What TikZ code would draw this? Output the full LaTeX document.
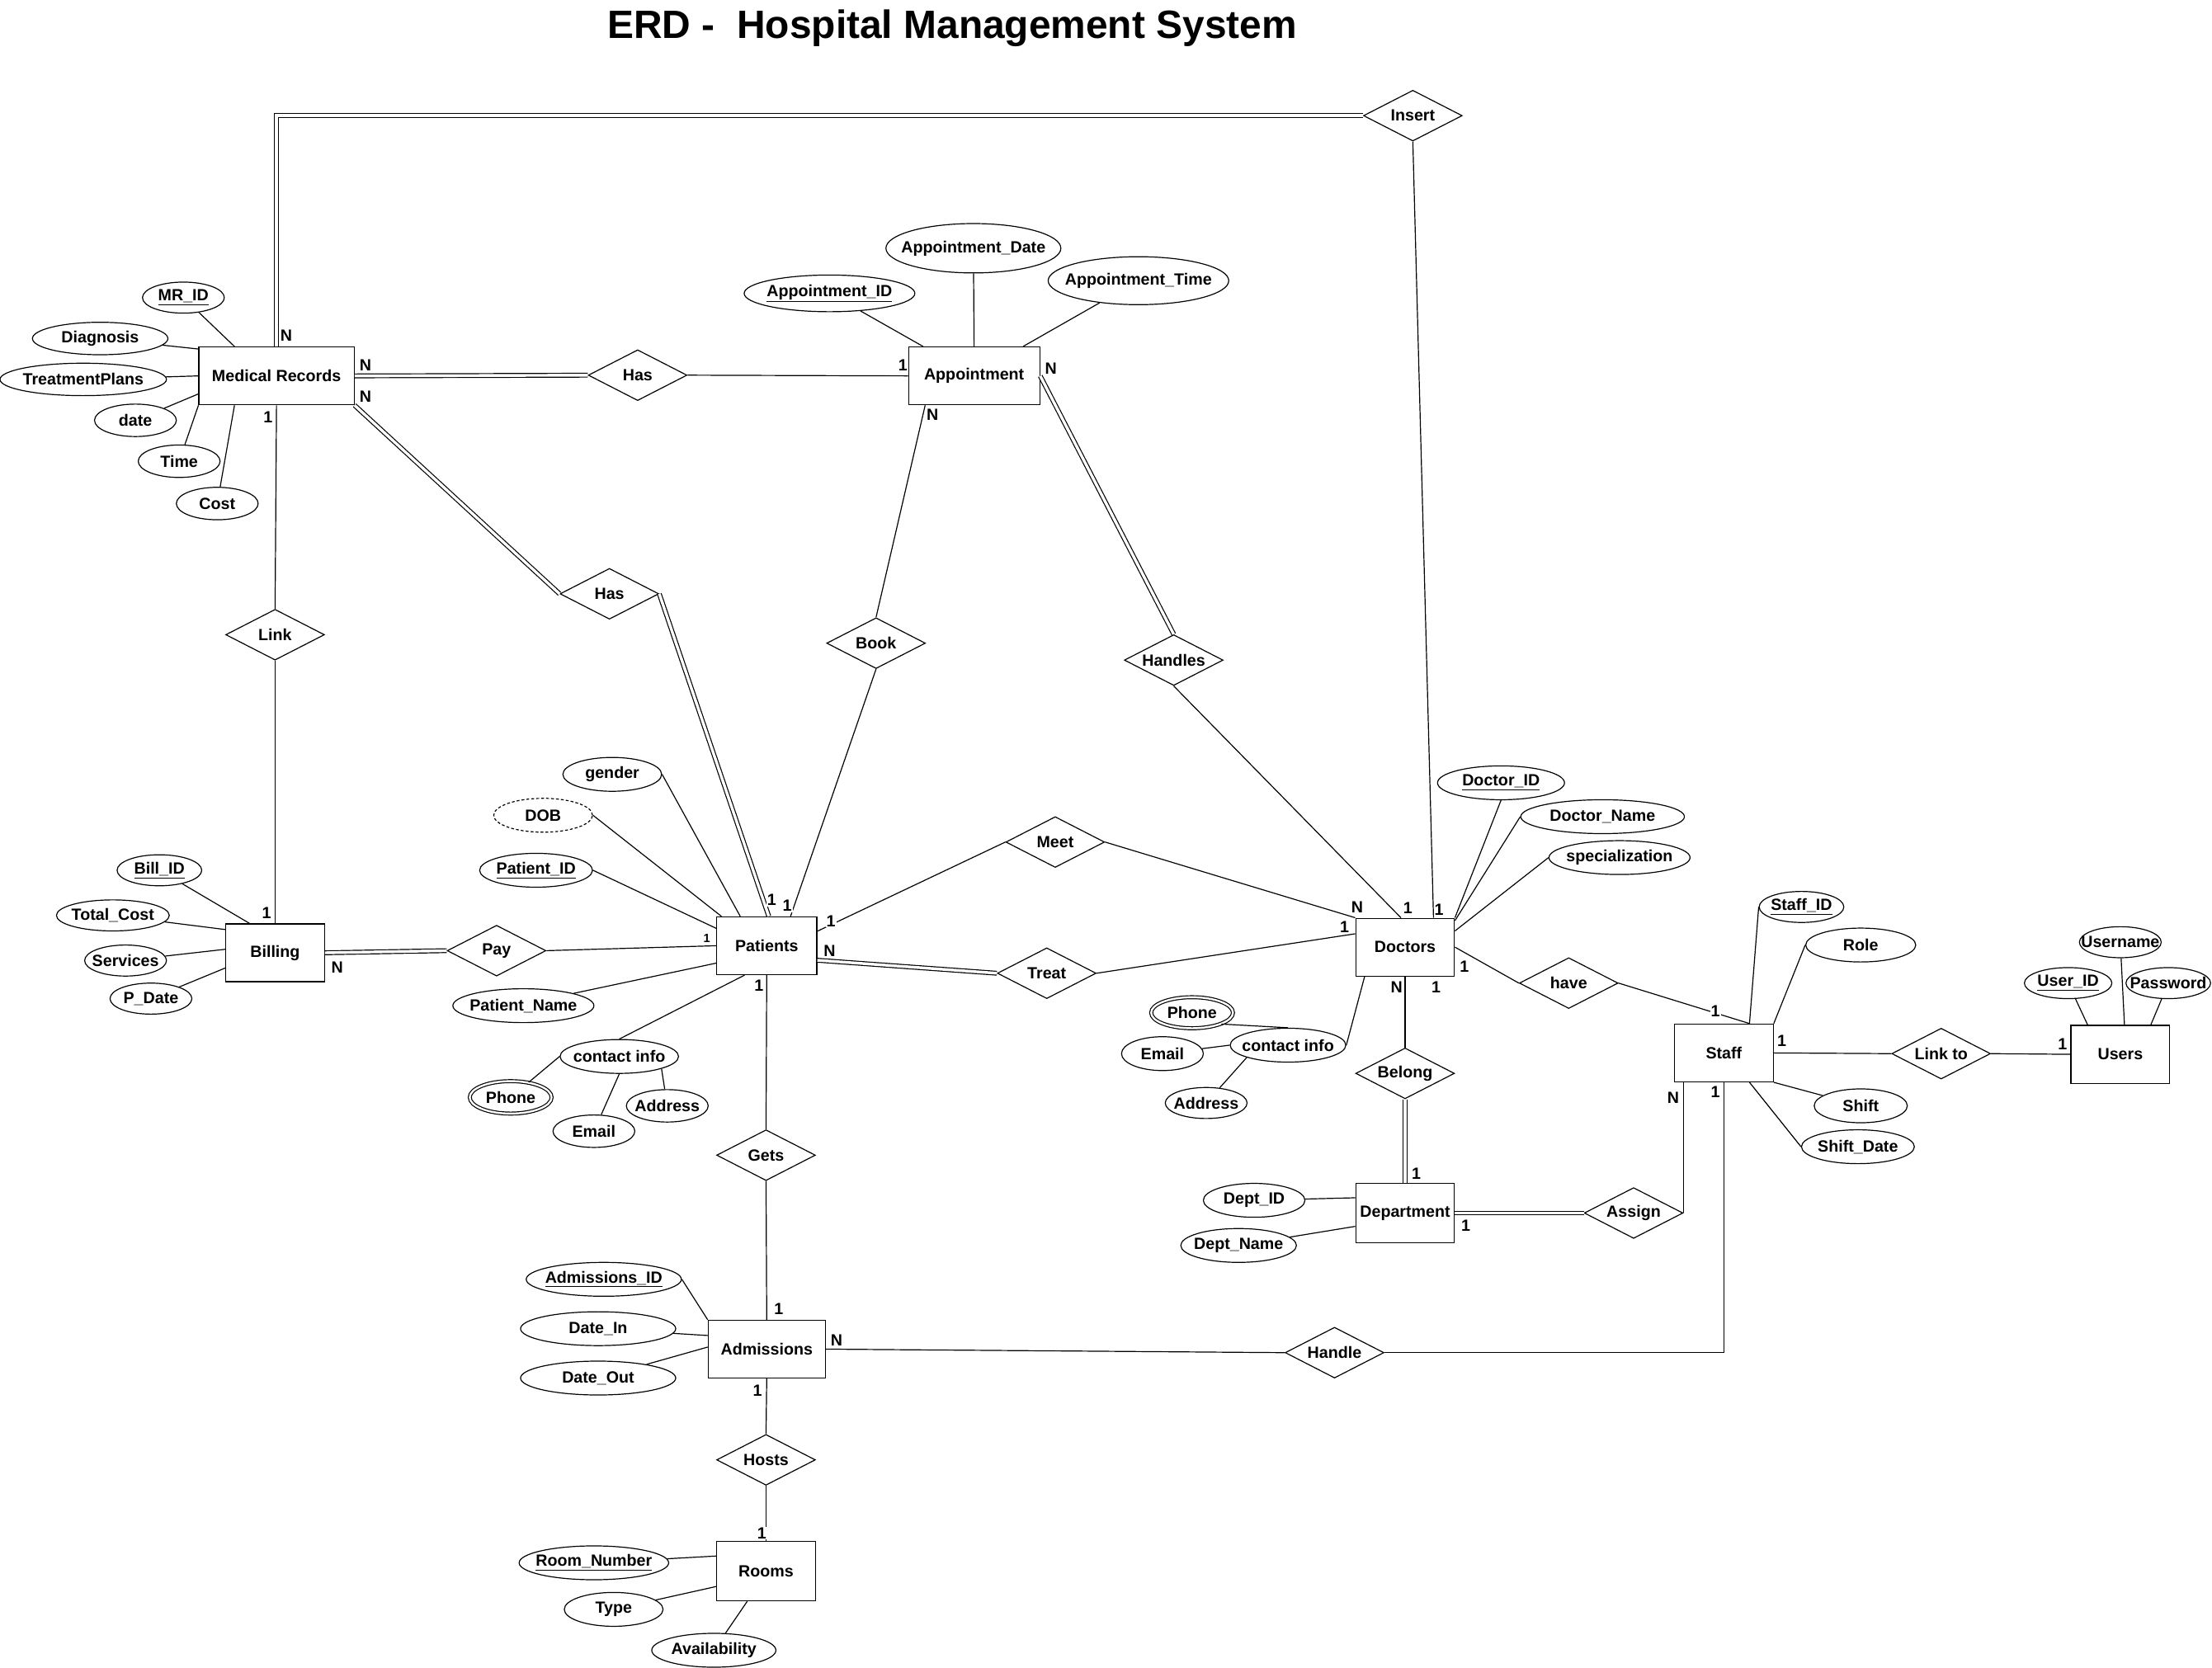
\documentclass[tikz,border=0pt]{standalone}
\usepackage{fontspec}
\setmainfont{Liberation Sans}
\usetikzlibrary{shapes.geometric}

\tikzset{
  every node/.style={font=\fontsize{11.5}{13}\selectfont\bfseries},
  entity/.style={draw, rectangle, minimum width=70pt, minimum height=41pt, inner sep=1pt},
  rel/.style={draw, diamond, minimum width=70pt, minimum height=36pt, inner xsep=-50pt, inner ysep=-20pt},
  attr/.style={draw, ellipse, minimum height=23pt, inner xsep=-60pt, inner ysep=-20pt},
  multi/.style={attr, double, double distance=1.4pt},
  derived/.style={attr, dash pattern=on 2pt off 1.5pt},
  card/.style={fill=white, inner sep=0.6pt},
  dbl/.style={double, double distance=2pt},
}

\begin{document}
\begin{tikzpicture}[x=1pt, y=-1pt, line width=0.7pt]
	\useasboundingbox (0,0) rectangle (1568,1182);
	\node[font=\fontsize{28}{32}\selectfont\bfseries] (title) at (675,20) {ERD -\ \ Hospital Management System};

	% entities
	\node[entity, minimum width=110pt] (mr) at (196,266.5) {Medical Records};
	\node[entity, minimum width=93pt] (app) at (690.5,266.5) {Appointment};
	\node[entity, minimum width=71pt] (pat) at (543.5,670.5) {Patients};
	\node[entity] (doc) at (996,671.5) {Doctors};
	\node[entity] (bill) at (195,675.5) {Billing};
	\node[entity] (staff) at (1222,746.5) {Staff};
	\node[entity] (users) at (1503,747.5) {Users};
	\node[entity, minimum height=42pt] (dept) at (996,860) {Department};
	\node[entity, minimum width=83pt] (adm) at (543.5,956.5) {Admissions};
	\node[entity, minimum height=42pt] (rooms) at (543,1114) {Rooms};

	% relationships
	\node[rel] (ins) at (1001.5,82) {Insert};
	\node[rel] (hasa) at (452,266) {Has};
	\node[rel] (hasb) at (432,421) {Has};
	\node[rel] (link) at (195,450) {Link};
	\node[rel] (book) at (621,456) {Book};
	\node[rel] (handles) at (832,468) {Handles};
	\node[rel] (meet) at (748,597) {Meet};
	\node[rel] (treat) at (742,690) {Treat};
	\node[rel] (pay) at (352,674) {Pay};
	\node[rel] (have) at (1112,697) {have};
	\node[rel] (linkto) at (1376,747) {Link to};
	\node[rel] (belong) at (996,761) {Belong};
	\node[rel] (assign) at (1158,860) {Assign};
	\node[rel] (gets) at (543,819) {Gets};
	\node[rel] (handle) at (946,959) {Handle};
	\node[rel] (hosts) at (543,1035) {Hosts};

	% attributes
	\node[attr, minimum width=58pt, minimum height=22pt] (mrid) at (130,211) {\underline{MR\_ID}};
	\node[attr, minimum width=96pt] (diag) at (71,240) {Diagnosis};
	\node[attr, minimum width=118pt] (treatp) at (59,269) {TreatmentPlans};
	\node[attr, minimum width=58pt] (mrdate) at (96,298) {date};
	\node[attr, minimum width=58pt] (mrtime) at (127,327) {Time};
	\node[attr, minimum width=58pt] (mrcost) at (154,357) {Cost};

	\node[attr, minimum width=121pt, minimum height=26pt] (appid) at (588,208) {\underline{Appointment\_ID}};
	\node[attr, minimum width=124pt, minimum height=35pt] (appdate) at (690,176) {Appointment\_Date};
	\node[attr, minimum width=128pt, minimum height=34pt] (apptime) at (807,199) {Appointment\_Time};

	\node[attr, minimum width=70pt, minimum height=24pt] (gender) at (434,549) {gender};
	\node[derived, minimum width=70pt, minimum height=24pt] (dob) at (385,578) {DOB};
	\node[attr, minimum width=80pt, minimum height=24pt] (patid) at (380,617) {\underline{Patient\_ID}};
	\node[attr, minimum width=100pt, minimum height=24pt] (patname) at (371,713) {Patient\_Name};
	\node[attr, minimum width=84pt, minimum height=24pt] (pcontact) at (439,749) {contact info};
	\node[multi, minimum width=58pt] (pphone) at (362,778) {Phone};
	\node[attr, minimum width=58pt] (pemail) at (421,802) {Email};
	\node[attr, minimum width=58pt] (paddr) at (473,784) {Address};

	\node[attr, minimum width=60pt, minimum height=22pt] (billid) at (113,617) {\underline{Bill\_ID}};
	\node[attr, minimum width=80pt, minimum height=22pt] (totcost) at (80,649) {Total\_Cost};
	\node[attr, minimum width=58pt, minimum height=22pt] (serv) at (89,681) {Services};
	\node[attr, minimum width=58pt, minimum height=22pt] (pdate) at (107,708) {P\_Date};

	\node[attr, minimum width=90pt, minimum height=24pt] (docid) at (1064,555) {\underline{Doctor\_ID}};
	\node[attr, minimum width=116pt, minimum height=24pt] (docname) at (1136,579) {Doctor\_Name};
	\node[attr, minimum width=100pt, minimum height=24pt] (spec) at (1148,608) {specialization};
	\node[attr, minimum width=82pt, minimum height=24pt] (dcontact) at (913,741) {contact info};
	\node[multi, minimum width=58pt, minimum height=22pt] (dphone) at (845,718) {Phone};
	\node[attr, minimum width=58pt, minimum height=24pt] (demail) at (824,747) {Email};
	\node[attr, minimum width=58pt, minimum height=22pt] (daddr) at (855,782) {Address};

	\node[attr, minimum width=72pt, minimum height=24pt] (deptid) at (889,851) {Dept\_ID};
	\node[attr, minimum width=82pt, minimum height=24pt] (deptname) at (878,883) {Dept\_Name};

	\node[attr, minimum width=60pt, minimum height=22pt] (staffid) at (1277,643) {\underline{Staff\_ID}};
	\node[attr, minimum width=78pt, minimum height=24pt] (role) at (1319,670) {Role};
	\node[attr, minimum width=66pt, minimum height=24pt] (shift) at (1319,784) {Shift};
	\node[attr, minimum width=80pt, minimum height=24pt] (shiftdate) at (1317,813) {Shift\_Date};

	\node[attr, minimum width=58pt, minimum height=22pt] (uname) at (1503,668) {Username};
	\node[attr, minimum width=62pt, minimum height=22pt] (userid) at (1466,697) {\underline{User\_ID}};
	\node[attr, minimum width=60pt, minimum height=22pt] (pwd) at (1537,697) {Password};

	\node[attr, minimum width=110pt, minimum height=24pt] (admid) at (428,907) {\underline{Admissions\_ID}};
	\node[attr, minimum width=110pt, minimum height=24pt] (datein) at (424,942) {Date\_In};
	\node[attr, minimum width=110pt, minimum height=24pt] (dateout) at (424,977) {Date\_Out};

	\node[attr, minimum width=106pt, minimum height=24pt] (roomno) at (421,1108) {\underline{Room\_Number}};
	\node[attr, minimum width=70pt, minimum height=24pt] (rtype) at (435,1141) {Type};
	\node[attr, minimum width=88pt, minimum height=24pt] (avail) at (506,1170) {Availability};

	% relationship lines
	\draw[dbl] (mr.north) |- (ins.west);
	\draw (ins.south) -- (doc.46);
	\draw[dbl] (mr.east) -- (hasa.west);
	\draw (hasa.east) -- (app.west);
	\draw[dbl] (mr.south east) -- (hasb.west);
	\draw[dbl] (hasb.east) -- (pat.86);
	\draw (mr.south) -- (link.north);
	\draw (link.south) -- (bill.north);
	\draw[dbl] (bill.east) -- (pay.west);
	\draw (pay.east) -- (pat.west);
	\draw (app.211) -- (book.north);
	\draw (book.south) -- (pat.51);
	\draw[dbl] (app.east) -- (handles.north);
	\draw (handles.south) -- (doc.98);
	\draw (pat.16) -- (meet.west);
	\draw (meet.east) -- (doc.north west);
	\draw[dbl] (pat.344) -- (treat.west);
	\draw (treat.east) -- (doc.165);
	\draw (pat.south) -- (gets.north);
	\draw (gets.south) -- (adm.north);
	\draw (adm.east) -- (handle.west);
	\draw (handle.east) -| (staff.south);
	\draw (adm.south) -- (hosts.north);
	\draw (hosts.south) -- (rooms.north);
	\draw (doc.south) -- (belong.north);
	\draw[dbl] (belong.south) -- (dept.north);
	\draw (doc.east) -- (have.west);
	\draw (have.east) -- (staff.49);
	\draw (staff.east) -- (linkto.west);
	\draw (linkto.east) -- (users.west);
	\draw[dbl] (dept.east) -- (assign.west);
	\draw (assign.east) -- (assign.east |- staff.south);

	% attribute lines
	\draw (mrid) -- (mr.145);
	\draw (diag) -- (mr.161);
	\draw (treatp) -- (mr.west);
	\draw (mrdate) -- (mr.193);
	\draw (mrtime) -- (mr.south west);
	\draw (mrcost) -- (mr.215);
	\draw (appid) -- (app.150);
	\draw (appdate) -- (app.north);
	\draw (apptime) -- (app.31);
	\draw (gender.east) -- (pat.132);
	\draw (dob.east) -- (pat.147);
	\draw (patid.east) -- (pat.161);
	\draw (patname.north east) -- (pat.199);
	\draw (pcontact.north) -- (pat.233);
	\draw (pphone) -- (pcontact.west);
	\draw (pemail) -- (pcontact.south);
	\draw (paddr) -- (pcontact.south east);
	\draw (billid) -- (bill.131);
	\draw (totcost) -- (bill.155);
	\draw (serv) -- (bill.176);
	\draw (pdate) -- (bill.197);
	\draw (docid.south) -- (doc.north east);
	\draw (docname.west) -- (doc.28);
	\draw (spec.west) -- (doc.18);
	\draw (dcontact.east) -- (doc.216);
	\draw (dphone.south east) -- (dcontact.north);
	\draw (demail) -- (dcontact.west);
	\draw (daddr) -- (dcontact.south west);
	\draw (deptid) -- (dept.163);
	\draw (deptname) -- (dept.195);
	\draw (staffid.west) -- (staff.49);
	\draw (role.west) -- (staff.north east);
	\draw (shift) -- (staff.south east);
	\draw (shiftdate.west) -- (staff.311);
	\draw (uname) -- (users.82);
	\draw (userid) -- (users.138);
	\draw (pwd) -- (users.44);
	\draw (admid.east) -- (adm.north west);
	\draw (datein) -- (adm.167);
	\draw (dateout) -- (adm.178);
	\draw (roomno) -- (rooms.163);
	\draw (rtype) -- (rooms.197);
	\draw (avail) -- (rooms.238);

	% cardinalities
	\foreach \x/\y/\lbl [count=\i] in {203/238/N, 259/259/N, 259/281/N, 190/296/1, 640/259/1, 745/261/N, 661/294/N,
		189/647/1, 239/686/N, 547/638/1, 558/642/1, 589/653/1, 588/674/N, 538/699/1,
		962/643/N, 998/644/1, 1020/645/1, 953/657/1, 1038/685/1, 990/700/N, 1018/700/1,
		1004/832/1, 1039/869/1, 1216/717/1, 1263/738/1, 1186/778/N, 1216/774/1, 1462/740/1,
		552/928/1, 593/950/N, 537/986/1, 540/1087/1}
		{\node[card] (card\i) at (\x,\y) {\lbl};}
	\node[card, font=\fontsize{8.5}{9}\selectfont\bfseries] (cardpay) at (501,665) {1};
\end{tikzpicture}
\end{document}
